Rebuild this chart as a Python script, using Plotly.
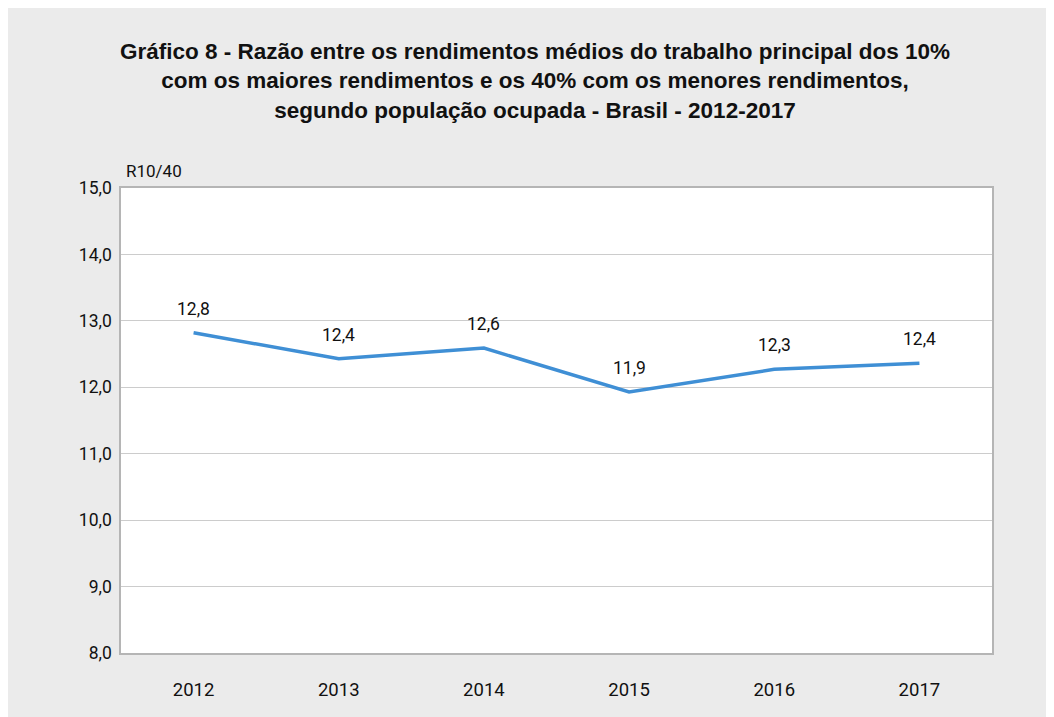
import plotly.graph_objects as go

years = ["2012", "2013", "2014", "2015", "2016", "2017"]
ratio = [12.82, 12.43, 12.59, 11.93, 12.27, 12.36]
labels = ["12,8", "12,4", "12,6", "11,9", "12,3", "12,4"]
y_ticks = [8, 9, 10, 11, 12, 13, 14, 15]

title = ("<b>Gráfico 8 - Razão entre os rendimentos médios do trabalho principal dos 10%<br>"
         "com os maiores rendimentos e os 40% com os menores rendimentos,<br>"
         "segundo população ocupada - Brasil - 2012-2017</b>")

W, H = 1054, 717
ml, mr, mt, mb = 113, 70, 180, 72
BG = "#ebebeb"
FONT = "Roboto, Liberation Sans, sans-serif"

fig = go.Figure()
fig.add_trace(go.Scatter(
    x=years, y=ratio, mode="lines",
    line=dict(color="#3f8fd5", width=3.5),
    hoverinfo="skip", showlegend=False,
))

for i, (yv, t) in enumerate(zip(ratio, labels)):
    fig.add_annotation(xref="x", yref="y", x=i, y=yv, text=t, showarrow=False, yshift=24,
                       font=dict(family=FONT, size=17.5, color="#111111"))

fig.add_annotation(xref="paper", yref="paper", x=0, y=1, xshift=3, yshift=17,
                   xanchor="left", yanchor="middle", text="R10/40", showarrow=False,
                   font=dict(family=FONT, size=17, color="#111111"))

fig.update_layout(
    width=W, height=H,
    margin=dict(l=ml, r=mr, t=mt, b=mb, autoexpand=False),
    paper_bgcolor=BG, plot_bgcolor="white",
    separators=",.",
    title=dict(text=title, x=0.5, xanchor="center", xref="container",
               y=1 - 51 / H, yanchor="top", yref="container",
               font=dict(family="Liberation Sans, Arial, sans-serif",
                         size=22.5, color="#111111")),
    xaxis=dict(type="category", range=[-0.5, 5.5], showgrid=False, ticks="",
               showline=True, linecolor="#b5b5b5", linewidth=1.5, mirror=True,
               tickfont=dict(family=FONT, size=18.5, color="#111111"),
               ticklabelstandoff=19, fixedrange=True),
    yaxis=dict(range=[8, 15], tickvals=y_ticks, tickformat=".1f", ticks="",
               showgrid=True, gridcolor="#cccccc", gridwidth=1,
               showline=True, linecolor="#b5b5b5", linewidth=1.5, mirror=True,
               zeroline=False, tickfont=dict(family=FONT, size=17.5, color="#111111"),
               ticklabelstandoff=4, fixedrange=True),
)

fig.write_html("out.html")
